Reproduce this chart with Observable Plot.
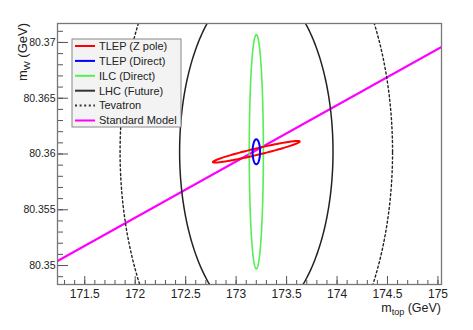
<!DOCTYPE html>
<html>
<head>
<meta charset="utf-8">
<script src="https://cdn.jsdelivr.net/npm/d3@7"></script>
<script src="https://cdn.jsdelivr.net/npm/@observablehq/plot@0.6"></script>
<style>
  html, body { margin: 0; padding: 0; background: #fff; }
  #chart { width: 473px; height: 330px; }
  svg text { font-family: "Liberation Sans", Arial, Helvetica, sans-serif; }
</style>
</head>
<body>
<div id="chart"></div>
<script>
// ---- data ----
const xMajor = [171.5, 172, 172.5, 173, 173.5, 174, 174.5, 175];
const yMajor = [80.35, 80.355, 80.36, 80.365, 80.37];
const xMinor = d3.range(1713, 1751).map(d => d / 10);
const yMinor = d3.range(80349, 80372).map(d => d / 1000);

// contours (ellipses): centre, half-widths, tilt of the major axis
const contourNames = ["Tevatron", "LHC (Future)", "ILC (Direct)", "TLEP (Z pole)", "TLEP (Direct)"];
const centerTop = [173.2, 173.2, 173.2, 173.2, 173.2];
const centerW = [80.3602, 80.3602, 80.3602, 80.3602, 80.3602];
const halfTop = [1.35, 0.76, 0.07, 0.43, 0.037];
const halfW = [0.023, 0.0150, 0.0105, 0.0003, 0.00112];
const tiltW = [0, 0, 0, 0.00092, 0];
const contourColors = ["#222222", "#222222", "#55ee55", "#ff0000", "#0000ff"];
const contourWidths = [1.4, 1.5, 1.6, 2, 2];
const contourDash = ["2,2.6", null, null, null, null];

// Standard Model line
const smTop = [171.23, 175.035];
const smW = [80.3504, 80.3696];

// legend
const legendNames = ["TLEP (Z pole)", "TLEP (Direct)", "ILC (Direct)", "LHC (Future)", "Tevatron", "Standard Model"];
const legendColors = ["#ff0000", "#0000ff", "#55ee55", "#333333", "#333333", "#ff00ff"];
const legendDash = [null, null, null, null, "2,2.6", null];

// ---- build ----
const W = 473, H = 330;
const mL = 57, mR = 32, mT = 23, mB = 46;
const innerW = W - mL - mR, innerH = H - mT - mB;

function ellipse(i) {
  const pts = [];
  const n = 240;
  for (let k = 0; k <= n; k++) {
    const t = 2 * Math.PI * k / n;
    pts.push({
      x: centerTop[i] + halfTop[i] * Math.cos(t),
      y: centerW[i] + halfW[i] * Math.sin(t) + tiltW[i] * Math.cos(t)
    });
  }
  return pts;
}

const sm = smTop.map((x, i) => ({x, y: smW[i]}));

const marks = [
  Plot.line(sm, {x: "x", y: "y", stroke: "#ff00ff", strokeWidth: 2.2, clip: true})
];
contourNames.forEach((name, i) => {
  marks.push(Plot.line(ellipse(i), {
    x: "x", y: "y", stroke: contourColors[i], strokeWidth: contourWidths[i],
    strokeDasharray: contourDash[i] || undefined, clip: true, curve: "linear"
  }));
});
marks.push(
  Plot.tickX(xMajor, {x: d => d, stroke: "#555", insetTop: innerH - 8}),
  Plot.tickX(xMinor, {x: d => d, stroke: "#555", insetTop: innerH - 4}),
  Plot.tickY(yMajor, {y: d => d, stroke: "#555", insetRight: innerW - 11}),
  Plot.tickY(yMinor, {y: d => d, stroke: "#555", insetRight: innerW - 6}),
  Plot.frame({stroke: "#777", strokeWidth: 1.3}),
  Plot.axisX(xMajor, {anchor: "bottom", tickSize: 0, tickPadding: 5, fontSize: 12, label: null, tickFormat: d => String(d), fill: "#222"}),
  Plot.axisY(yMajor, {anchor: "left", tickSize: 0, tickPadding: 2, fontSize: 10.5, label: null, tickFormat: d => String(d), fill: "#222"})
);

const chart = Plot.plot({
  width: W, height: H,
  marginLeft: mL, marginRight: mR, marginTop: mT, marginBottom: mB,
  x: {domain: [171.23, 175.035]},
  y: {domain: [80.3483, 80.3717]},
  style: {fontFamily: "'Liberation Sans', Arial, Helvetica, sans-serif", background: "#fff", overflow: "visible"},
  marks
});

const svg = d3.select(chart);

// axis titles
const xt = svg.append("text")
  .attr("x", mL + innerW).attr("y", 312)
  .attr("text-anchor", "end").attr("fill", "#222").attr("font-size", 12.5);
xt.append("tspan").text("m");
xt.append("tspan").attr("font-size", 9).attr("dy", 3).text("top");
xt.append("tspan").attr("dy", -3).text(" (GeV)");

const yt = svg.append("text")
  .attr("transform", `translate(27,${mT}) rotate(-90)`)
  .attr("text-anchor", "end").attr("fill", "#222").attr("font-size", 13);
yt.append("tspan").text("m");
yt.append("tspan").attr("font-size", 9.5).attr("dy", 3).text("W");
yt.append("tspan").attr("dy", -3).text(" (GeV)");

// legend
const lg = svg.append("g");
lg.append("rect").attr("x", 72).attr("y", 39).attr("width", 109).attr("height", 88)
  .attr("fill", "#f3f3f3").attr("stroke", "#888").attr("stroke-width", 1);
legendNames.forEach((name, i) => {
  const yy = 46 + i * 14.9;
  lg.append("line").attr("x1", 75).attr("x2", 95).attr("y1", yy).attr("y2", yy)
    .attr("stroke", legendColors[i]).attr("stroke-width", 2)
    .attr("stroke-dasharray", legendDash[i]);
  lg.append("text").attr("x", 99).attr("y", yy).attr("dy", "0.35em")
    .attr("text-anchor", "start")
    .attr("font-size", 11).attr("fill", "#222").text(name);
});

document.getElementById("chart").appendChild(chart);
</script>
</body>
</html>
